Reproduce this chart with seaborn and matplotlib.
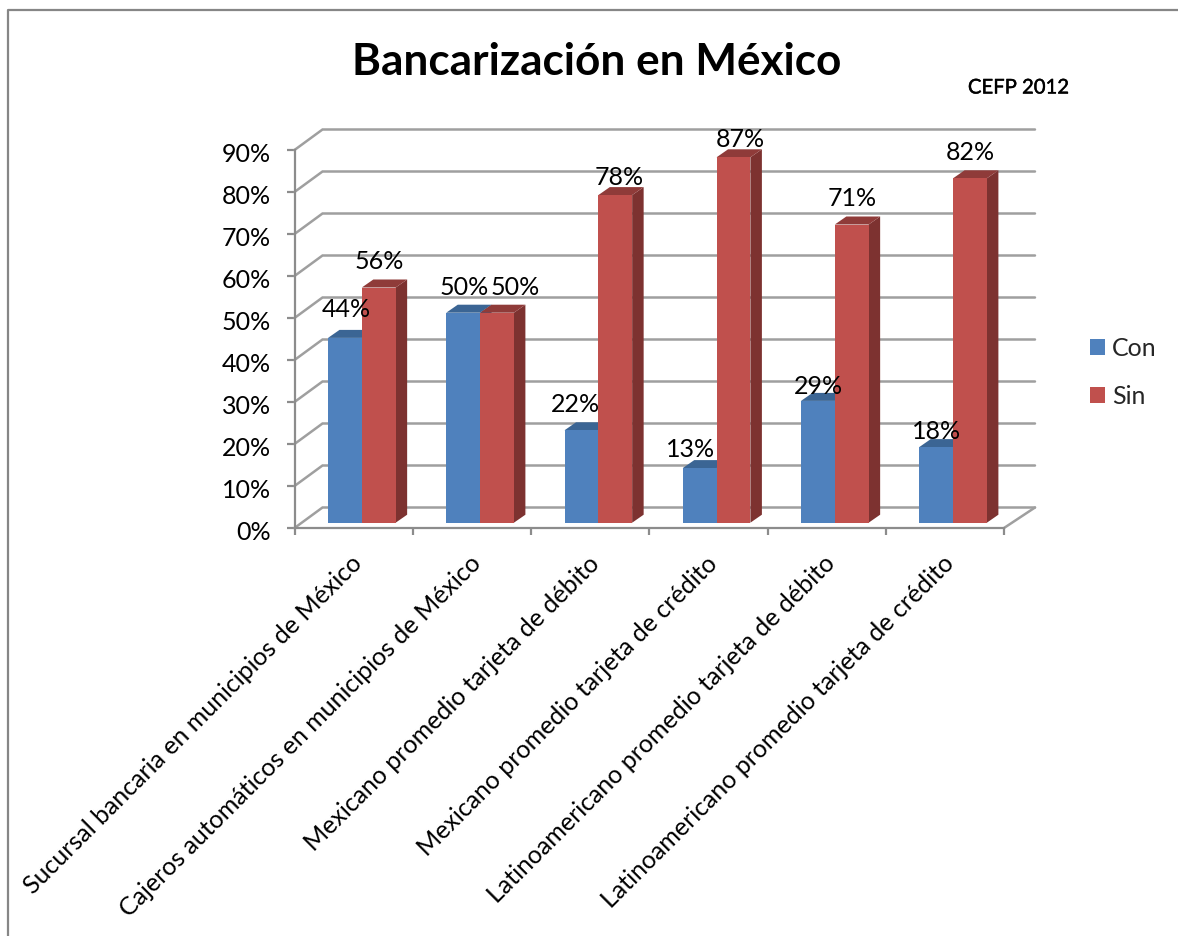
import matplotlib
matplotlib.use("Agg")
import matplotlib.pyplot as plt
import matplotlib.patheffects as pe
from matplotlib.lines import Line2D
from matplotlib.patches import Polygon
from matplotlib.transforms import Affine2D
import pandas as pd
import seaborn as sns

categories = [
    "Sucursal bancaria en municipios de México",
    "Cajeros automáticos en municipios de México",
    "Mexicano promedio tarjeta de débito",
    "Mexicano promedio tarjeta de crédito",
    "Latinoamericano promedio tarjeta de débito",
    "Latinoamericano promedio tarjeta de crédito",
]
con_values = [44, 50, 22, 13, 29, 18]
sin_values = [56, 50, 78, 87, 71, 82]
y_ticks = [0, 10, 20, 30, 40, 50, 60, 70, 80, 90]

W, H = 1178, 936
FRONT_L, FRONT_R, FRONT_B, FRONT_T = 294.5, 1004, 528, 150
GRAY = "#9f9f9f"
FONT = ["Lato", "DejaVu Sans"]

sns.set_theme(style="white")
plt.rcParams["font.family"] = FONT

df = pd.DataFrame({
    "categoria": categories * 2,
    "serie": ["Con"] * 6 + ["Sin"] * 6,
    "valor": con_values + sin_values,
})

fig = plt.figure(figsize=(W / 100, H / 100), dpi=100, facecolor="white")
ax = fig.add_axes([FRONT_L / W, 1 - FRONT_B / H,
                   (FRONT_R - FRONT_L) / W, (FRONT_B - FRONT_T) / H])

sns.barplot(data=df, x="categoria", y="valor", hue="serie", order=categories,
            palette={"Con": "#4f81bd", "Sin": "#c0504d"}, width=0.572, gap=0,
            saturation=1, linewidth=0, ax=ax)
ax.set_xlim(-0.5, 5.5)
ax.set_ylim(0, 90)
ax.set_xlabel("")
ax.set_ylabel("")
ax.patch.set_alpha(0)

px_x = (FRONT_R - FRONT_L) / 6          # pixels per category
px_y = (FRONT_B - FRONT_T) / 90         # pixels per percent

# back wall and floor
wall_l, wall_r, wall_y = 28 / px_x, 31 / px_x, 20.5 / px_y
for t in y_ticks:
    ax.plot([-0.5, -0.5 + wall_l, 5.5 + wall_r], [t, t + wall_y, t + wall_y],
            color=GRAY, lw=1.8, clip_on=False, zorder=1, solid_joinstyle="miter")
ax.plot([5.5, 5.5 + wall_r], [0, wall_y], color=GRAY, lw=1.8, clip_on=False, zorder=1)

# axes
for s in ("top", "right"):
    ax.spines[s].set_visible(False)
for s in ("left", "bottom"):
    ax.spines[s].set_color("#8c8c8c")
    ax.spines[s].set_linewidth(1.6)
    ax.spines[s].set_zorder(1)
ax.set_yticks(y_ticks)
ax.set_yticklabels([f"{t}%" for t in y_ticks])
ax.set_xticks(range(6))
ax.set_xticklabels(categories, rotation=45, ha="right", rotation_mode="anchor")
ax.set_xticks([i - 0.5 for i in range(7)], minor=True)
ax.tick_params(axis="y", left=True, length=6, width=1.6, color="#8c8c8c", pad=11,
               labelsize=18, labelcolor="black")
ax.tick_params(axis="x", which="major", bottom=False, length=0, pad=17,
               labelsize=18, labelcolor="black")
ax.tick_params(axis="x", which="minor", bottom=True, length=5, width=1.6, color="#8c8c8c")
for label in ax.get_yticklabels():
    label.set_transform(label.get_transform() + Affine2D().translate(0, -3))
for label in ax.get_xticklabels():
    label.set_transform(label.get_transform() + Affine2D().translate(-3, 0))

# 3-D bars: fronts sit mid-depth, sides and tops are built from each bar
shift = Affine2D().translate(8.2, 5.3)
depth_x, depth_y = 11.5 / px_x, 8 / px_y
shades = [("#345e8e", "#3b6594"), ("#7d3230", "#8f3b39")]
bars = list(ax.containers)
for container, (side_col, top_col) in zip(bars, shades):
    for bar in container:
        x0, w, h = bar.get_x(), bar.get_width(), bar.get_height()
        x1 = x0 + w
        bar.set_transform(ax.transData + shift)
        bar.set_clip_on(False)
        bar.set_zorder(3)
        side = Polygon([(x1, 0), (x1 + depth_x, depth_y), (x1 + depth_x, h + depth_y), (x1, h)],
                       facecolor=side_col, edgecolor="none",
                       transform=ax.transData + shift, clip_on=False, zorder=2)
        top = Polygon([(x0, h), (x0 + depth_x, h + depth_y), (x1 + depth_x, h + depth_y), (x1, h)],
                      facecolor=top_col, edgecolor="none",
                      transform=ax.transData + shift, clip_on=False, zorder=2)
        ax.add_patch(side)
        ax.add_patch(top)

# data labels, nudged by hand as in the original
nudges = {
    "Con": [(1, 28), (1, 25), (-6, 26), (-9, 19), (1, 14), (0, 16)],
    "Sin": [(1, 26), (18, 25), (4, 18), (7, 18), (0, 26), (0, 26)],
}
for container, name in zip(bars, ("Con", "Sin")):
    for bar, (ndx, ndy) in zip(container, nudges[name]):
        ax.annotate(f"{bar.get_height():.0f}%",
                    (bar.get_x() + bar.get_width() / 2, bar.get_height()),
                    xycoords=ax.transData + shift,
                    xytext=(ndx * 0.72, ndy * 0.72), textcoords="offset points",
                    ha="center", va="center", fontsize=18, color="black",
                    annotation_clip=False, zorder=6)

# legend
handles, labels = ax.get_legend_handles_labels()
ax.legend(handles, labels, loc="upper left", bbox_to_anchor=(1082 / W, 1 - 329 / H),
          bbox_transform=fig.transFigure, frameon=False, fontsize=18,
          handlelength=0.6, handleheight=0.6, handletextpad=0.3,
          labelspacing=1.0, borderpad=0.3, borderaxespad=0)

# title and source note
fig.text(597 / W, 1 - 62 / H, "Bancarización en México", ha="center", va="center",
         fontsize=31.8, fontweight="bold", color="black")
fig.text(1018.5 / W, 1 - 88 / H, "CEFP 2012", ha="center", va="center",
         fontsize=14.6, color="black",
         path_effects=[pe.withStroke(linewidth=0.3, foreground="black")])

# chart-area frame
fig.add_artist(Line2D([8 / W, 8 / W, 1], [0, 1 - 10 / H, 1 - 10 / H],
                      color="#868686", lw=1.6, transform=fig.transFigure))

fig.savefig("out.png", dpi=100, facecolor="white")
